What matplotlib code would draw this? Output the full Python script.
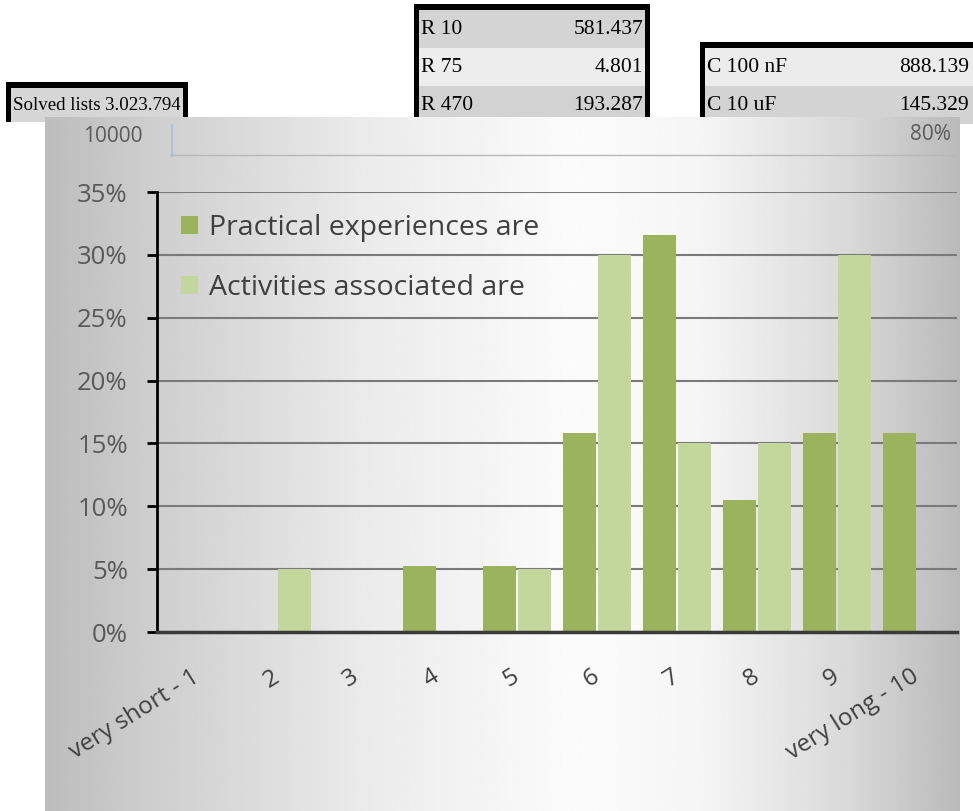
import numpy as np
import matplotlib
matplotlib.use("Agg")
import matplotlib.pyplot as plt
from matplotlib.patches import Rectangle

plt.rcParams["font.family"] = ["Open Sans", "DejaVu Sans"]

# ---- data ----
categories = ["very short - 1", "2", "3", "4", "5", "6", "7", "8", "9", "very long - 10"]
practical = [0, 0, 0, 5.26, 5.26, 15.79, 31.58, 10.53, 15.79, 15.79]
activities = [0, 5, 0, 0, 5, 30, 15, 15, 30, 0]
series_names = ["Practical experiences are", "Activities associated are"]

table_r = [("R 10", "581.437"), ("R 75", "4.801"), ("R 470", "193.287")]
table_c = [("C 100 nF", "888.139"), ("C 10 uF", "145.329")]
table_s = [("Solved lists", "3.023.794")]

P_GREEN = "#9BB35C"
A_GREEN = "#C3D69B"
TXT = "#3f3f3f"
W, H = 973, 811

fig = plt.figure(figsize=(W / 100, H / 100), dpi=100)
fig.patch.set_facecolor("white")

# full-figure canvas in pixel coords for the pasted tables and chart panel
cv = fig.add_axes([0, 0, 1, 1])
cv.set_xlim(0, W)
cv.set_ylim(H, 0)
cv.axis("off")

def table(x0, x1, y_top, rows, row_h, fills, val_right, right_border=True, fs=14.5):
    y = y_top + 6
    for (lab, val), fc in zip(rows, fills):
        cv.add_patch(Rectangle((x0, y), x1 - x0, row_h, facecolor=fc, edgecolor="none", zorder=1))
        cv.text(x0 + 2, y + row_h / 2 + 1, lab, ha="left", va="center", fontsize=fs,
                family="Liberation Serif", color="black", zorder=2)
        cv.text(val_right, y + row_h / 2 + 1, val, ha="right", va="center", fontsize=fs,
                family="Liberation Serif", color="black", zorder=2)
        y += row_h
    # thick black borders
    cv.add_patch(Rectangle((x0 - 5, y_top), x1 - x0 + 10, 6, facecolor="black", zorder=3))
    cv.add_patch(Rectangle((x0 - 5, y_top), 5, y - y_top, facecolor="black", zorder=3))
    if right_border:
        cv.add_patch(Rectangle((x1, y_top), 5, y - y_top, facecolor="black", zorder=3))

table(11, 183, 82, table_s, 34, ["#d6d6d6"], 181, fs=13.6)
table(419, 645, 4, table_r, 38, ["#d4d4d4", "#ededed", "#d2d2d2"], 643, fs=15.5)
table(705, 985, 42, table_c, 38, ["#ececec", "#d3d3d3"], 969, right_border=False, fs=15.5)

# chart panel with horizontal grey-white-grey gradient
xs = np.linspace(0, 1, 400)
prof = np.interp(xs, [0, 0.12, 0.35, 0.58, 0.72, 0.88, 1], [0.74, 0.81, 0.92, 0.985, 0.96, 0.85, 0.73])
grad = np.tile(prof, (2, 1))
cv.imshow(grad, cmap="gray", vmin=0, vmax=1, extent=(45, 960, H, 117),
          aspect="auto", zorder=5, interpolation="bilinear")
cv.plot([170, 955], [155, 155], color="#b8b8b8", lw=1, zorder=6)
cv.plot([172, 172], [125, 156], color="#a9bfd6", lw=1.2, zorder=6)
cv.text(113, 137, "10000", ha="center", va="center", fontsize=15, color="#5a5a5a", zorder=6)
cv.text(930, 135, "80%", ha="center", va="center", fontsize=15, color="#5a5a5a", zorder=6)

# ---- main bar chart ----
ax = fig.add_axes([157 / W, (H - 632) / H, 800 / W, 440 / H], zorder=10)
ax.patch.set_alpha(0)
x = np.arange(1, len(categories) + 1)
bw = 0.41
ax.bar(x - bw / 2 - 0.01, practical, width=bw, color=P_GREEN, label=series_names[0], zorder=3)
ax.bar(x + bw / 2 + 0.01, activities, width=bw, color=A_GREEN, label=series_names[1], zorder=3)

ax.set_xlim(0.5, 10.5)
ax.set_ylim(0, 35)
ax.set_yticks(np.arange(0, 36, 5))
ax.set_yticklabels([f"{v}%" for v in range(0, 36, 5)])
ax.yaxis.grid(True, color="#7a7a7a", lw=1.5)
ax.set_axisbelow(True)

for s in ["top", "right"]:
    ax.spines[s].set_visible(False)
ax.spines["left"].set_color("black")
ax.spines["left"].set_linewidth(2)
ax.spines["bottom"].set_color("#3a3a3a")
ax.spines["bottom"].set_linewidth(2.5)
ax.spines["bottom"].set_zorder(4)

ax.tick_params(axis="y", direction="out", length=7, width=2, color="black",
               labelsize=18.5, labelcolor="#595959", pad=14)
ax.set_xticks(x)
ax.set_xticklabels(categories, rotation=32, ha="right", va="center", rotation_mode="anchor")
ax.tick_params(axis="x", length=0, labelsize=17.5, labelcolor=TXT, pad=31)

leg = ax.legend(loc="upper left", bbox_to_anchor=(170 / W, 1 - 203 / H), bbox_transform=fig.transFigure,
                frameon=False, fontsize=20.5, handlelength=0.58, handleheight=0.58,
                handletextpad=0.38, labelspacing=1.12, borderaxespad=0)
for t in leg.get_texts():
    t.set_color(TXT)

plt.savefig("out.png", dpi=100, facecolor="white")
